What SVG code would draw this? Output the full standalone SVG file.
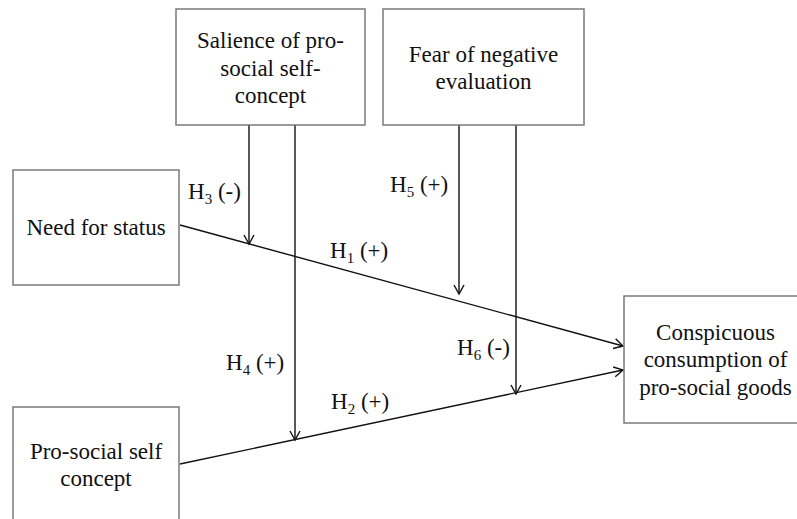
<svg xmlns="http://www.w3.org/2000/svg" width="797" height="519" viewBox="0 0 797 519">
<style>
.box{fill:#fff;stroke:#7a7a7a;stroke-width:1.5}
.t{font-family:"Liberation Serif","Times New Roman",serif;font-size:23px;fill:#111;text-anchor:middle}
.l{font-family:"Liberation Serif","Times New Roman",serif;font-size:23px;fill:#111}
.sub{font-size:15px}
.c{stroke:#111;stroke-width:1.4;fill:none;marker-end:url(#arr)}
</style>
<defs>
<marker id="arr" markerUnits="userSpaceOnUse" markerWidth="20" markerHeight="20" refX="0" refY="0" viewBox="-10 -10 20 20" orient="auto" overflow="visible">
<path d="M-9,-5 L0,0 L-9,5" fill="none" stroke="#111" stroke-width="1.4"/>
</marker>
</defs>
<rect width="797" height="519" fill="#fff"/>
<g id="connectors">
<line class="c" x1="249" y1="125" x2="249" y2="244"/>
<line class="c" x1="295" y1="125" x2="295" y2="440"/>
<line class="c" x1="459" y1="125" x2="459" y2="294"/>
<line class="c" x1="516" y1="125" x2="516" y2="394"/>
<line class="c" x1="180" y1="225" x2="623" y2="346"/>
<line class="c" x1="180" y1="464" x2="623" y2="370"/>
</g>
<g id="salience">
<rect class="box" x="176" y="9" width="189" height="116"/>
<text class="t" x="270.5" y="48">Salience of pro-</text>
<text class="t" x="270.5" y="76">social self-</text>
<text class="t" x="270.5" y="103">concept</text>
</g>
<g id="fear">
<rect class="box" x="383" y="9" width="201" height="116"/>
<text class="t" x="483.5" y="62">Fear of negative</text>
<text class="t" x="483.5" y="89">evaluation</text>
</g>
<g id="need">
<rect class="box" x="13" y="170" width="166" height="115"/>
<text class="t" x="96" y="235">Need for status</text>
</g>
<g id="prosocial">
<rect class="box" x="13" y="407" width="166" height="125"/>
<text class="t" x="96" y="459">Pro-social self</text>
<text class="t" x="96" y="486">concept</text>
</g>
<g id="conspicuous">
<rect class="box" x="624" y="296" width="184" height="127"/>
<text class="t" x="715.5" y="340">Conspicuous</text>
<text class="t" x="715.5" y="367">consumption of</text>
<text class="t" x="715.5" y="395">pro-social goods</text>
</g>
<g id="labels">
<text class="l" x="188" y="199">H<tspan class="sub" dy="5">3</tspan><tspan dy="-5"> (-)</tspan></text>
<text class="l" x="330" y="258">H<tspan class="sub" dy="5">1</tspan><tspan dy="-5"> (+)</tspan></text>
<text class="l" x="390" y="192">H<tspan class="sub" dy="5">5</tspan><tspan dy="-5"> (+)</tspan></text>
<text class="l" x="226" y="370">H<tspan class="sub" dy="5">4</tspan><tspan dy="-5"> (+)</tspan></text>
<text class="l" x="331" y="409">H<tspan class="sub" dy="5">2</tspan><tspan dy="-5"> (+)</tspan></text>
<text class="l" x="457" y="355">H<tspan class="sub" dy="5">6</tspan><tspan dy="-5"> (-)</tspan></text>
</g>
</svg>
